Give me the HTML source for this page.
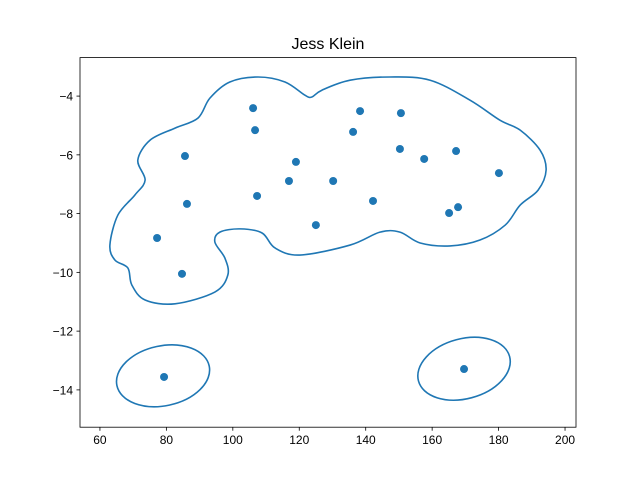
<!DOCTYPE html>
<html><head><meta charset="utf-8"><style>
body{margin:0;background:#fff}
svg{font-family:"Liberation Sans",sans-serif}
</style></head><body>
<svg id="chart" width="640" height="480" xmlns="http://www.w3.org/2000/svg">
<rect width="640" height="480" fill="#fff"/>
<text x="328" y="49" font-size="16" text-anchor="middle">Jess Klein</text>
<g id="marks"></g>
<g id="axes"></g>
</svg>
<script>
const xTicks=[60,80,100,120,140,160,180,200];
const yTicks=[-4,-6,-8,-10,-12,-14];
const pointsX=[106.1,106.7,138.3,150.6,136.2,85.6,119.0,150.3,157.6,167.2,180.1,116.9,130.2,107.3,86.2,142.2,125.0,165.1,167.8,77.2,84.7,79.3,169.6];
const pointsY=[-4.41,-5.16,-4.51,-4.58,-5.22,-6.04,-6.24,-5.80,-6.14,-5.87,-6.62,-6.89,-6.89,-7.40,-7.67,-7.57,-8.39,-7.98,-7.78,-8.83,-10.05,-13.56,-13.29];
const contourX=[63.0,65.4,70.5,73.6,71.4,75.1,82.6,89.5,93.1,99.1,107.6,115.7,121.7,123.8,126.8,135.3,147.3,159.4,171.4,180.4,186.5,192.5,194.3,191.9,186.5,182.0,174.4,165.4,156.4,150.3,144.3,135.3,120.2,112.7,108.8,102.2,96.1,94.6,97.6,98.5,94.6,82.6,73.6,69.6,68.4,64.5];
const contourY=[-9.07,-8.05,-7.37,-6.86,-6.18,-5.50,-5.09,-4.75,-4.07,-3.52,-3.35,-3.52,-3.97,-4.03,-3.80,-3.46,-3.35,-3.46,-4.14,-4.82,-5.16,-5.84,-6.52,-7.20,-7.71,-8.39,-8.90,-9.10,-9.00,-8.63,-8.63,-9.07,-9.41,-9.17,-8.66,-8.52,-8.63,-8.97,-9.51,-10.09,-10.67,-11.07,-10.94,-10.43,-9.85,-9.58];
const ellipseCX=[79.0,169.6];
const ellipseCY=[-13.52,-13.28];
const ellipseRX=[14.2,14.2];
const ellipseRY=[1.02,1.02];
const ellipseTilt=[-12,-15];

const L=80,R=576,T=57.6,B=427.2,xmin=54.0,xmax=203.3,ymin=-15.27,ymax=-2.69;
const sx=v=>L+(v-xmin)/(xmax-xmin)*(R-L);
const sy=v=>B-(v-ymin)/(ymax-ymin)*(B-T);
const NS='http://www.w3.org/2000/svg';
const C='#1f77b4';
function mk(t,a,p){const e=document.createElementNS(NS,t);for(const k in a)e.setAttribute(k,a[k]);p.appendChild(e);return e;}
const marks=document.getElementById('marks'),axes=document.getElementById('axes');

const P=contourX.map((x,i)=>[sx(x),sy(contourY[i])]);const n=P.length;
let d=`M${P[0][0]},${P[0][1]}`;
for(let i=0;i<n;i++){const p0=P[(i-1+n)%n],p1=P[i],p2=P[(i+1)%n],p3=P[(i+2)%n];
d+=`C${p1[0]+(p2[0]-p0[0])/6},${p1[1]+(p2[1]-p0[1])/6} ${p2[0]-(p3[0]-p1[0])/6},${p2[1]-(p3[1]-p1[1])/6} ${p2[0]},${p2[1]}`;}
const cp=mk('path',{d:d+'Z',fill:'none',stroke:C,'stroke-width':1.6},marks);



ellipseCX.forEach((cx,i)=>{
 const px=sx(cx),py=sy(ellipseCY[i]);
 const e=mk('ellipse',{cx:px,cy:py,rx:sx(cx+ellipseRX[i])-px,ry:py-sy(ellipseCY[i]+ellipseRY[i]),transform:`rotate(${ellipseTilt[i]} ${px} ${py})`,fill:'none',stroke:C,'stroke-width':1.6},marks);
 
 
});

pointsX.forEach((x,i)=>{
 const c=mk('circle',{cx:sx(x),cy:sy(pointsY[i]),r:4,fill:C},marks);
 
 
});

const fr=mk('rect',{x:L,y:T,width:R-L,height:B-T,fill:'none',stroke:'#000','stroke-width':0.8},axes);


xTicks.forEach(v=>{const x=sx(v);
 mk('line',{x1:x,x2:x,y1:B,y2:B+3.5,stroke:'#000','stroke-width':0.8},axes);
 const t=mk('text',{x:x,y:B+17,'font-size':12,'text-anchor':'middle'},axes);t.textContent=v;
 
 
});
yTicks.forEach(v=>{const y=sy(v);
 mk('line',{x1:L-3.5,x2:L,y1:y,y2:y,stroke:'#000','stroke-width':0.8},axes);
 const t=mk('text',{x:L-7,y:y+4.5,'font-size':12,'text-anchor':'end'},axes);t.textContent='\u2212'+Math.abs(v);
 
 
});
</script>
</body></html>
